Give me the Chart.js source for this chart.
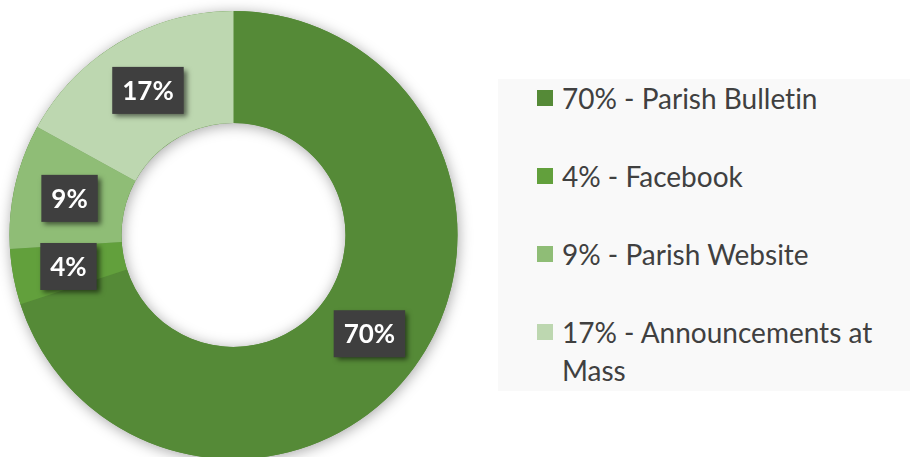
<!DOCTYPE html>
<html>
<head>
<meta charset="utf-8">
<script src="https://cdn.jsdelivr.net/npm/chart.js@4.4.1/dist/chart.umd.min.js"></script>
<style>
  html, body { margin: 0; padding: 0; background: #fff; overflow: hidden; }
  #wrap { position: relative; width: 910px; height: 457px; overflow: hidden; }
  #chart { position: absolute; left: 0; top: 0; }
  #legend {
    position: absolute; left: 498px; top: 79px; width: 412px; height: 312px;
    background: #f9f9f9; font-family: Lato, sans-serif; font-size: 28px; color: #404040;
    font-variant-ligatures: none;
  }
  #legend ul { list-style: none; margin: 0; padding: 0 0 0 39px; }
  #legend li { display: flex; align-items: flex-start; line-height: 38px; margin-bottom: 40px; }
  #legend .sw { flex: none; width: 16px; height: 16px; margin: 11px 9px 0 0; }
  #legend .tx { max-width: 335px; }
</style>
</head>
<body>
<div id="wrap">
  <canvas id="chart" width="910" height="470"></canvas>
  <div id="legend"><ul id="legend-list"></ul></div>
</div>
<script>
// Data
const labels = ['Parish Bulletin', 'Facebook', 'Parish Website', 'Announcements at Mass'];
const shares = [70, 4, 9, 17];
const colors = ['#558a37', '#62a03c', '#8fbd76', '#bdd7b0'];

// Soft shadow under the whole ring
const ringShadow = {
  id: 'ringShadow',
  beforeDatasetsDraw(chart) {
    const arc = chart.getDatasetMeta(0).data[0];
    if (!arc) return;
    const { x, y, outerRadius, innerRadius } = arc.getProps(['x', 'y', 'outerRadius', 'innerRadius'], true);
    const ctx = chart.ctx;
    ctx.save();
    ctx.shadowColor = 'rgba(0,0,0,0.35)';
    ctx.shadowBlur = 14;
    ctx.shadowOffsetX = 1;
    ctx.shadowOffsetY = 2;
    ctx.beginPath();
    ctx.arc(x, y, outerRadius, 0, Math.PI * 2);
    ctx.arc(x, y, innerRadius, 0, Math.PI * 2, true);
    ctx.fillStyle = colors[0];
    ctx.fill('evenodd');
    ctx.restore();
  }
};

// Dark boxed percentage labels at each slice centre
const boxLabels = {
  id: 'boxLabels',
  afterDatasetsDraw(chart) {
    const ctx = chart.ctx;
    ctx.save();
    ctx.font = 'bold 26px Lato, sans-serif';
    ctx.textAlign = 'center';
    ctx.textBaseline = 'middle';
    chart.getDatasetMeta(0).data.forEach((el, i) => {
      const p = el.tooltipPosition(true);
      const text = shares[i] + '%';
      const w = ctx.measureText(text).width + 20;
      const h = 47;
      ctx.shadowColor = 'rgba(0,0,0,0.55)';
      ctx.shadowBlur = 5;
      ctx.shadowOffsetX = 3;
      ctx.shadowOffsetY = 3;
      ctx.fillStyle = '#3f3f3f';
      ctx.fillRect(p.x - w / 2, p.y - h / 2, w, h);
      ctx.shadowColor = 'transparent';
      ctx.fillStyle = '#ffffff';
      ctx.fillText(text, p.x, p.y + 1);
    });
    ctx.restore();
  }
};

// HTML legend built from the chart's legend items
const htmlLegend = {
  id: 'htmlLegend',
  afterUpdate(chart) {
    const list = document.getElementById('legend-list');
    list.innerHTML = '';
    const items = chart.options.plugins.legend.labels.generateLabels(chart);
    items.forEach((item, i) => {
      const li = document.createElement('li');
      li.innerHTML = `<span class="sw" style="background:${item.fillStyle}"></span>` +
        `<span class="tx">${shares[i]}% - ${item.text}</span>`;
      list.appendChild(li);
    });
  }
};

const chart = new Chart(document.getElementById('chart'), {
  type: 'doughnut',
  data: {
    labels: labels,
    datasets: [{
      data: shares,
      backgroundColor: colors,
      borderWidth: 0
    }]
  },
  options: {
    responsive: false,
    animation: false,
    cutout: '50%',
    layout: { padding: { top: 11, left: 9.5, right: 452.5, bottom: 11 } },
    plugins: {
      legend: { display: false },
      tooltip: { enabled: false }
    }
  },
  plugins: [ringShadow, boxLabels, htmlLegend]
});
</script>
</body>
</html>
